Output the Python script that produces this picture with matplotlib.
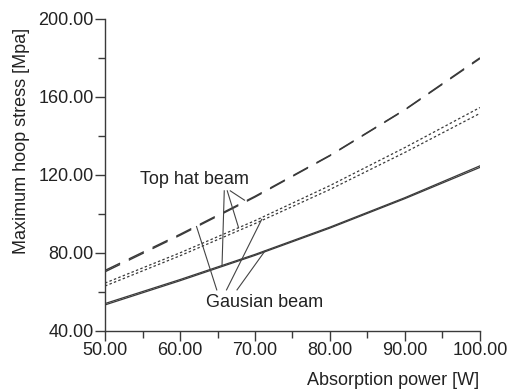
import matplotlib
matplotlib.use("Agg")
import matplotlib.pyplot as plt
from matplotlib.ticker import MultipleLocator, FormatStrFormatter

plt.rcParams['font.family'] = ['Liberation Sans', 'DejaVu Sans']

power = [50, 60, 70, 80, 90, 100]
dashed_a = [71.0, 89.5, 109.0, 130.0, 153.5, 180.0]
dashed_b = [70.3, 89.0, 108.6, 129.8, 153.3, 179.6]
dotted_a = [64.5, 80.0, 96.5, 114.5, 134.0, 154.5]
dotted_b = [63.0, 78.5, 95.0, 112.5, 131.5, 151.5]
solid_a = [54.0, 66.3, 79.2, 93.2, 108.3, 124.6]
solid_b = [53.3, 65.7, 78.7, 92.7, 107.8, 123.8]

xticks = [50, 60, 70, 80, 90, 100]
yticks = [40, 80, 120, 160, 200]

fig = plt.figure(figsize=(5.1, 3.92), dpi=100)
ax = fig.add_axes([0.206, 0.156, 0.735, 0.796])

c = '#3a3a3a'
ax.plot(power, dashed_a, color=c, lw=1.0, dashes=(12, 7))
ax.plot(power, dashed_b, color=c, lw=1.0, dashes=(12, 7))
ax.plot(power, dotted_a, color=c, lw=0.9, dashes=(2, 1.8))
ax.plot(power, dotted_b, color=c, lw=0.9, dashes=(2, 1.8))
ax.plot(power, solid_a, color=c, lw=0.9)
ax.plot(power, solid_b, color=c, lw=0.9)

ax.set_xlim(50, 100)
ax.set_ylim(40, 200)
ax.set_xticks(xticks)
ax.set_yticks(yticks)
ax.xaxis.set_minor_locator(MultipleLocator(5))
ax.yaxis.set_minor_locator(MultipleLocator(20))
ax.xaxis.set_major_formatter(FormatStrFormatter('%.2f'))
ax.yaxis.set_major_formatter(FormatStrFormatter('%.2f'))
for s in ['top', 'right']:
    ax.spines[s].set_visible(False)
for s in ['left', 'bottom']:
    ax.spines[s].set_color(c)
    ax.spines[s].set_linewidth(1.0)
ax.tick_params(which='major', direction='out', length=7, width=1.0, color=c,
               labelsize=13, labelcolor='#222222', pad=1)
ax.tick_params(which='minor', direction='out', length=5, width=1.0, color=c)

fig.text(0.043, 0.64, 'Maximum hoop stress [Mpa]', rotation=90, ha='center', va='center',
         fontsize=13, color='#222222')
fig.text(0.94, 0.03, 'Absorption power [W]', ha='right', va='center',
         fontsize=13, color='#222222')

# annotations
ax.text(61.9, 117.6, 'Top hat beam', ha='center', va='center', fontsize=13, color='#222222')
ax.text(71.3, 54.4, 'Gausian beam', ha='center', va='center', fontsize=13, color='#222222')
lc = '#444444'
top_start = [(65.9, 111.8), (66.3, 111.8), (66.7, 111.8)]
top_end = [(65.6, 73.3), (67.8, 93.0), (68.6, 107.0)]
for (x0, y0), (x1, y1) in zip(top_start, top_end):
    ax.plot([x0, x1], [y0, y1], color=lc, lw=0.8)
gau_start = [(64.9, 61.0), (66.2, 61.0), (67.6, 61.0)]
gau_end = [(62.2, 93.5), (70.9, 97.2), (71.3, 80.8)]
for (x0, y0), (x1, y1) in zip(gau_start, gau_end):
    ax.plot([x0, x1], [y0, y1], color=lc, lw=0.8)

fig.savefig('out.png', dpi=100)
